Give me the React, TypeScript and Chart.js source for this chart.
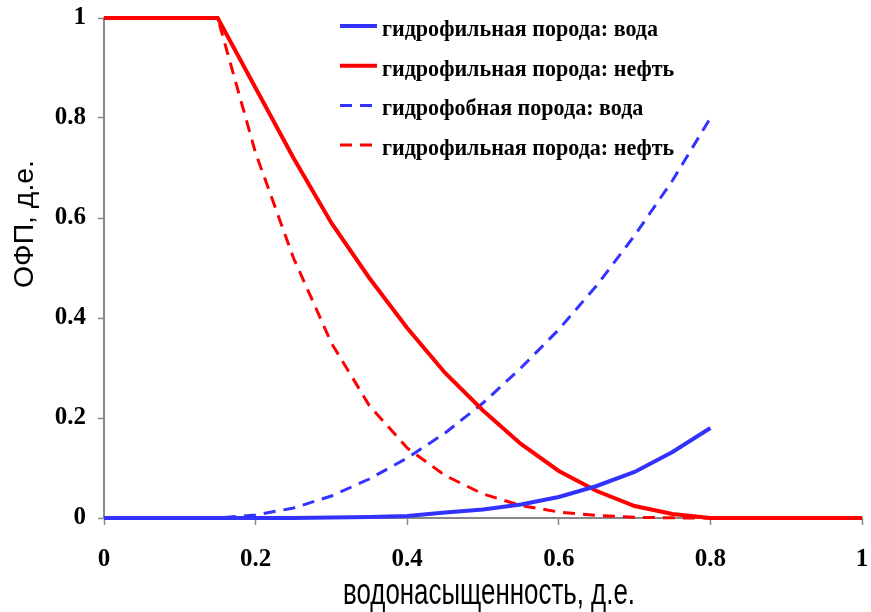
import React, { useEffect, useRef } from 'react';
import { Chart, registerables } from 'chart.js';

Chart.register(...registerables);

// ---- data ----
const saturation = [0, 0.05, 0.1, 0.15, 0.2, 0.25, 0.3, 0.35, 0.4, 0.45, 0.5, 0.55, 0.6, 0.65, 0.7, 0.75, 0.8, 0.85, 0.9, 0.95, 1];
const hydrophilicWater = [0, 0, 0, 0, 0, 0, 0.001, 0.002, 0.004, 0.011, 0.017, 0.027, 0.042, 0.064, 0.092, 0.132, 0.18];
const hydrophilicOil = [1, 1, 1, 1, 0.86, 0.72, 0.59, 0.48, 0.38, 0.29, 0.215, 0.148, 0.094, 0.054, 0.024, 0.008, 0, 0, 0, 0, 0];
const hydrophobicWater = [0, 0, 0, 0, 0.006, 0.02, 0.044, 0.078, 0.12, 0.17, 0.23, 0.3, 0.377, 0.465, 0.565, 0.675, 0.8];
const hydrophobicOil = [1, 1, 1, 1, 0.73, 0.52, 0.35, 0.225, 0.14, 0.085, 0.048, 0.025, 0.012, 0.005, 0.0015, 0.0003, 0, 0, 0, 0, 0];

const seriesLabels = [
  'гидрофильная порода: вода',
  'гидрофильная порода: нефть',
  'гидрофобная порода: вода',
  'гидрофильная порода: нефть',
];
const xTickLabels = ['0', '0.2', '0.4', '0.6', '0.8', '1'];
const yTickLabels = ['0', '0.2', '0.4', '0.6', '0.8', '1'];
const xTitle = 'водонасыщенность, д.е.';
const yTitle = 'ОФП, д.е.';

const BLUE = '#3333FF';
const RED = '#FF0000';
const AXIS = '#888888';
const SERIF = '"Liberation Serif", "Times New Roman", serif';
const NARROW = '"Liberation Sans Narrow", "Liberation Sans", Arial, sans-serif';

const toPoints = (ys: number[]) => ys.map((y, i) => ({ x: saturation[i], y }));

const textPlugin = {
  id: 'customTexts',
  afterDatasetsDraw(chart: any) {
    const ctx = chart.ctx as CanvasRenderingContext2D;
    // legend
    ctx.save();
    ctx.font = `bold 24px ${SERIF}`;
    const refW = ctx.measureText(chart.data.datasets[0].label).width;
    const sx = 276 / refW;
    chart.data.datasets.forEach((ds: any, i: number) => {
      const lineY = 26 + i * 39.7;
      ctx.save();
      ctx.strokeStyle = ds.borderColor;
      ctx.lineWidth = ds.borderWidth;
      ctx.setLineDash(ds.borderDash || []);
      ctx.beginPath();
      ctx.moveTo(340, lineY);
      ctx.lineTo(377, lineY);
      ctx.stroke();
      ctx.restore();
      ctx.save();
      ctx.translate(382, lineY + 10);
      ctx.scale(sx, 1);
      ctx.fillStyle = '#000';
      ctx.textAlign = 'left';
      ctx.textBaseline = 'alphabetic';
      ctx.fillText(ds.label, 0, 0);
      ctx.restore();
    });
    ctx.restore();

    // x title
    ctx.save();
    ctx.font = `36px ${NARROW}`;
    const wx = ctx.measureText(xTitle).width;
    ctx.translate(343, 604);
    ctx.scale(292 / wx, 1);
    ctx.fillStyle = '#000';
    ctx.textAlign = 'left';
    ctx.textBaseline = 'alphabetic';
    ctx.fillText(xTitle, 0, 0);
    ctx.restore();

    // y title
    ctx.save();
    ctx.font = `36px ${NARROW}`;
    const wy = ctx.measureText(yTitle).width;
    ctx.translate(33, 224);
    ctx.rotate(-Math.PI / 2);
    ctx.scale(128 / wy, 0.775);
    ctx.fillStyle = '#000';
    ctx.textAlign = 'center';
    ctx.textBaseline = 'alphabetic';
    ctx.fillText(yTitle, 0, 0);
    ctx.restore();
  },
};

export default function App() {
  const canvasRef = useRef<HTMLCanvasElement | null>(null);

  useEffect(() => {
    if (!canvasRef.current) return;
    const tickFont = { family: SERIF, size: 25, weight: 'bold' as const };
    const chart = new Chart(canvasRef.current, {
      type: 'line',
      data: {
        datasets: [
          {
            label: seriesLabels[0],
            data: toPoints(hydrophilicWater),
            borderColor: BLUE,
            borderWidth: 4,
            clip: false as any,
          },
          {
            label: seriesLabels[1],
            data: toPoints(hydrophilicOil),
            borderColor: RED,
            borderWidth: 4,
            clip: false as any,
          },
          {
            label: seriesLabels[2],
            data: toPoints(hydrophobicWater),
            borderColor: BLUE,
            borderWidth: 3,
            borderDash: [12, 8],
            clip: false as any,
          },
          {
            label: seriesLabels[3],
            data: toPoints(hydrophobicOil),
            borderColor: RED,
            borderWidth: 3,
            borderDash: [12, 8],
            clip: false as any,
          },
        ],
      },
      options: {
        responsive: false,
        animation: false,
        devicePixelRatio: 1,
        layout: { padding: { top: 18, right: 9, left: 0, bottom: 0 } },
        elements: { point: { radius: 0 }, line: { tension: 0, fill: false } },
        plugins: { legend: { display: false }, tooltip: { enabled: false } },
        scales: {
          x: {
            type: 'linear',
            min: 0,
            max: 1,
            afterFit: (s: any) => {
              s.height = 94;
              s.paddingLeft = 0;
              s.paddingRight = 0;
            },
            ticks: {
              stepSize: 0.2,
              font: tickFont,
              color: '#000',
              padding: 20,
              maxRotation: 0,
              autoSkip: false,
              callback: (_v: any, i: number) => xTickLabels[i] ?? '',
            },
            grid: { drawOnChartArea: false, tickLength: 7, color: AXIS, tickWidth: 1.5 },
            border: { color: AXIS, width: 2 },
          },
          y: {
            type: 'linear',
            min: 0,
            max: 1,
            afterFit: (s: any) => {
              s.width = 104;
              s.paddingTop = 0;
              s.paddingBottom = 0;
            },
            ticks: {
              stepSize: 0.2,
              font: tickFont,
              color: '#000',
              padding: 12,
              autoSkip: false,
              callback: (_v: any, i: number) => yTickLabels[i] ?? '',
            },
            grid: { drawOnChartArea: false, tickLength: 6, color: AXIS, tickWidth: 1.5 },
            border: { color: AXIS, width: 2 },
          },
        },
      },
      plugins: [textPlugin],
    });
    return () => chart.destroy();
  }, []);

  return (
    <div style={{ position: 'fixed', left: 0, top: 0, width: 871, height: 612, background: '#fff' }}>
      <canvas ref={canvasRef} width={871} height={612} style={{ width: 871, height: 612 }} />
    </div>
  );
}
